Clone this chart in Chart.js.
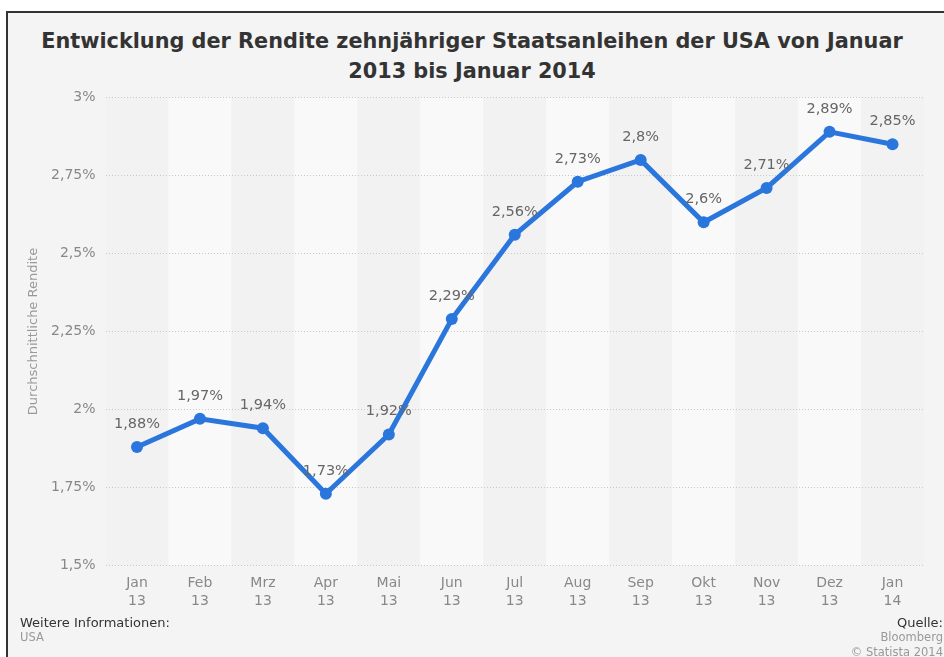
<!DOCTYPE html>
<html>
<head>
<meta charset="utf-8">
<script src="https://cdn.jsdelivr.net/npm/chart.js@4.4.1/dist/chart.umd.min.js"></script>
<style>
    html, body { margin: 0; padding: 0; background: #fff; }
    body { width: 944px; height: 657px; position: relative; overflow: hidden; font-family: "DejaVu Sans", sans-serif; }
    .frame { position: absolute; left: 6px; top: 11px; width: 940px; height: 650px; background: #f4f4f4; border-left: 2px solid #333; border-top: 2px solid #333; }
    .title { position: absolute; left: 0; top: 26px; width: 944px; text-align: center; font-weight: bold; font-size: 20.8px; line-height: 30px; color: #333; }
    canvas { position: absolute; left: 0; top: 0; }
    .info { position: absolute; font-size: 13px; color: #333; }
    .info small { display: block; font-size: 11.5px; color: #999; line-height: 15px; }
</style>
</head>
<body>
<div class="frame"></div>
<div class="title">Entwicklung der Rendite zehnjähriger Staatsanleihen der USA von Januar<br>2013 bis Januar 2014</div>
<div style="position:absolute;left:0;top:0;width:944px;height:657px;">
    <canvas id="renditeChart" width="944" height="657"></canvas>
</div>
<div class="info" style="left:20px;top:615px;">Weitere Informationen:<small>USA</small></div>
<div class="info" style="right:1px;top:615px;text-align:right;">Quelle:<small>Bloomberg</small><small>© Statista 2014</small></div>

<script>
    const months = [["Jan", "13"], ["Feb", "13"], ["Mrz", "13"], ["Apr", "13"], ["Mai", "13"], ["Jun", "13"],
        ["Jul", "13"], ["Aug", "13"], ["Sep", "13"], ["Okt", "13"], ["Nov", "13"], ["Dez", "13"], ["Jan", "14"]];
    const rendite = [1.88, 1.97, 1.94, 1.73, 1.92, 2.29, 2.56, 2.73, 2.8, 2.6, 2.71, 2.89, 2.85];
    const yTicks = [1.5, 1.75, 2, 2.25, 2.5, 2.75, 3];

    const fmt = v => String(v).replace(".", ",") + "%";

    // alternating column bands behind the plot
    const bandPlugin = {
        id: "bands",
        beforeDraw(chart) {
            const { ctx, chartArea, scales } = chart;
            const x = scales.x;
            const step = x.getPixelForValue(1) - x.getPixelForValue(0);
            ctx.save();
            months.forEach((m, i) => {
                const cx = x.getPixelForValue(i);
                ctx.fillStyle = i % 2 ? "#f9f9f9" : "#f2f2f2";
                ctx.fillRect(cx - step / 2, chartArea.top, step, chartArea.bottom - chartArea.top);
            });
            ctx.restore();
        }
    };

    // value labels above each point
    const labelPlugin = {
        id: "valueLabels",
        afterDatasetsDraw(chart) {
            const { ctx } = chart;
            const meta = chart.getDatasetMeta(0);
            ctx.save();
            ctx.font = "14.5px 'DejaVu Sans'";
            ctx.fillStyle = "#666";
            ctx.textAlign = "center";
            ctx.textBaseline = "middle";
            meta.data.forEach((pt, i) => {
                ctx.fillText(fmt(rendite[i]), pt.x, pt.y - 23);
            });
            ctx.restore();
        }
    };

    new Chart(document.getElementById("renditeChart"), {
        type: "line",
        data: {
            labels: months,
            datasets: [{
                data: rendite,
                borderColor: "#2a76dd",
                backgroundColor: "#2a76dd",
                borderWidth: 5,
                pointRadius: 6,
                pointBorderWidth: 0,
                tension: 0
            }]
        },
        options: {
            responsive: false,
            animation: false,
            layout: { padding: { left: 0, right: 20, top: 97.5, bottom: 0 } },
            plugins: {
                legend: { display: false },
                tooltip: { enabled: false }
            },
            scales: {
                x: {
                    offset: true,
                    grid: { display: false },
                    border: { display: false },
                    ticks: {
                        color: "#888",
                        font: { family: "DejaVu Sans", size: 14, lineHeight: 1.3 },
                        padding: 1,
                        maxRotation: 0
                    },
                    afterFit: s => { s.height = 91.5; }
                },
                y: {
                    min: 1.5,
                    max: 3,
                    afterBuildTicks: s => { s.ticks = yTicks.map(v => ({ value: v })); },
                    grid: { color: "#c8c8c8", drawTicks: false },
                    border: { display: false, dash: [1, 2] },
                    ticks: {
                        color: "#888",
                        font: { family: "DejaVu Sans", size: 14 },
                        padding: 10,
                        callback: v => fmt(v)
                    },
                    title: {
                        display: true,
                        text: "Durchschnittliche Rendite",
                        color: "#999",
                        font: { family: "DejaVu Sans", size: 13 },
                        padding: { top: 26, bottom: 0 }
                    },
                    afterFit: s => { s.width = 105.5; }
                }
            }
        },
        plugins: [bandPlugin, labelPlugin]
    });
</script>
</body>
</html>
